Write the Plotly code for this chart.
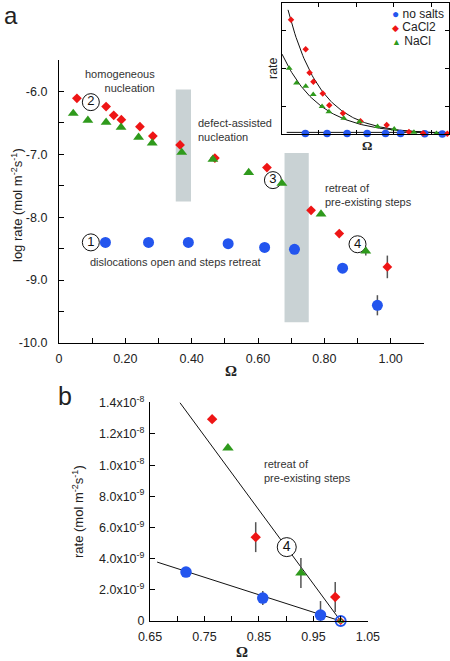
import math
import plotly.graph_objects as go

W, H = 450, 661

# ---------------- Panel a data (log rate vs Omega) ----------------
omega_none_a = [0.14, 0.27, 0.39, 0.51, 0.62, 0.71, 0.855, 0.96]
log_none_a = [-8.40, -8.40, -8.40, -8.42, -8.48, -8.51, -8.81, -9.40]
err_none_a = [0, 0, 0, 0, 0, 0, 0.06, 0.16]

omega_ca_a = [0.054, 0.142, 0.165, 0.188, 0.244, 0.283, 0.365, 0.47, 0.627, 0.76, 0.845, 0.99]
log_ca_a = [-6.11, -6.24, -6.38, -6.45, -6.56, -6.71, -6.85, -7.06, -7.21, -7.89, -8.26, -8.79]
err_ca_a = [0, 0, 0.05, 0, 0, 0, 0, 0, 0, 0, 0, 0.18]

omega_na_a = [0.043, 0.087, 0.142, 0.187, 0.24, 0.281, 0.37, 0.464, 0.572, 0.672, 0.79, 0.925]
log_na_a = [-6.35, -6.46, -6.49, -6.57, -6.73, -6.82, -6.97, -7.08, -7.29, -7.46, -7.95, -8.54]
err_na_a = [0, 0, 0, 0, 0, 0, 0, 0, 0, 0, 0, 0.07]

x_ticks_a = [0, 0.2, 0.4, 0.6, 0.8, 1.0]
x_ticklabels_a = ["0", "0.20", "0.40", "0.60", "0.80", "1.00"]
y_ticks_a = [-10, -9, -8, -7, -6]
y_ticklabels_a = ["-10.0", "-9.0", "-8.0", "-7.0", "-6.0"]

# regime bands (Omega from/to, log rate from/to)
band1 = dict(x0=0.352, x1=0.398, y0=-7.75, y1=-5.97)
band2 = dict(x0=0.680, x1=0.753, y0=-9.67, y1=-6.98)

# inset fits: rate = A*exp(-k*Omega)
fit_ca_A, fit_ca_k = 1.017e-6, 5.2
fit_na_A, fit_na_k = 5.43e-7, 4.5
fit_none_level = 1.1e-8

# ---------------- Panel b data (rate vs Omega) ----------------
omega_none_b = [0.716, 0.857, 0.963]
rate_none_b = [3.14e-9, 1.47e-9, 0.38e-9]
err_none_b = [0, 0.45e-9, 0.9e-9]

omega_ca_b = [0.764, 0.844, 0.99]
rate_ca_b = [12.95e-9, 5.38e-9, 1.54e-9]
err_ca_b = [0, 0.96e-9, 0.96e-9]

omega_na_b = [0.793, 0.927]
rate_na_b = [11.1e-9, 3.08e-9]
err_na_b = [0, 0.96e-9]

omega_eq_b = [1.0]
rate_eq_b = [0.0]

fit_none_b_x = [0.663, 1.0]
fit_none_b_y = [3.78e-9, 0.0]
fit_salt_b_x = [0.705, 1.0]
fit_salt_b_y = [1.4e-8, 0.0]

x_ticks_b = [0.65, 0.75, 0.85, 0.95, 1.05]
x_ticklabels_b = ["0.65", "0.75", "0.85", "0.95", "1.05"]
y_ticks_b = [0, 2e-9, 4e-9, 6e-9, 8e-9, 1e-8, 1.2e-8, 1.4e-8]
y_ticklabels_b = ["0", "2.0x10<sup>-9</sup>", "4.0x10<sup>-9</sup>", "6.0x10<sup>-9</sup>",
                  "8.0x10<sup>-9</sup>", "1.0x10<sup>-8</sup>", "1.2x10<sup>-8</sup>",
                  "1.4x10<sup>-8</sup>"]

# ---------------- styling ----------------
BLUE = "#2355ee"
RED = "#ee1515"
GREEN = "#2f9a1c"
BAND = "#c9d2d4"
FONT = "Liberation Sans"
TXT = "#222222"


def px(x):
    return x / W


def py(y):
    return 1 - y / H


fig = go.Figure()


def err(arr, show=True):
    return dict(type="data", array=arr, visible=show, color="#555555", thickness=1.5, width=0)


# ---- inset fit curves ----
n = 120
xs_ca = [0.036 + i * (1.0 - 0.036) / n for i in range(n + 1)]
xs_na = [0.0 + i * 1.0 / n for i in range(n + 1)]
fig.add_trace(go.Scatter(x=xs_ca, y=[fit_ca_A * math.exp(-fit_ca_k * v) for v in xs_ca],
                         mode="lines", line=dict(color="#111", width=1), xaxis="x2", yaxis="y2",
                         showlegend=False, hoverinfo="skip"))
fig.add_trace(go.Scatter(x=xs_na, y=[fit_na_A * math.exp(-fit_na_k * v) for v in xs_na],
                         mode="lines", line=dict(color="#111", width=1), xaxis="x2", yaxis="y2",
                         showlegend=False, hoverinfo="skip"))
fig.add_trace(go.Scatter(x=[0.028, 0.95], y=[fit_none_level, fit_none_level],
                         mode="lines", line=dict(color="#111", width=1), xaxis="x2", yaxis="y2",
                         showlegend=False, hoverinfo="skip"))

# ---- panel b fit lines ----
fig.add_trace(go.Scatter(x=fit_none_b_x, y=fit_none_b_y, mode="lines",
                         line=dict(color="#111", width=1), xaxis="x3", yaxis="y3",
                         showlegend=False, hoverinfo="skip"))
fig.add_trace(go.Scatter(x=fit_salt_b_x, y=fit_salt_b_y, mode="lines",
                         line=dict(color="#111", width=1), xaxis="x3", yaxis="y3",
                         showlegend=False, hoverinfo="skip"))

# ---- circled labels ----
lab_marker = dict(size=17, color="white", line=dict(color="#111", width=1))
fig.add_trace(go.Scatter(x=[0.096, 0.096, 0.645, 0.90], y=[-8.40, -6.17, -7.41, -8.43],
                         mode="markers+text", text=["1", "2", "3", "4"],
                         textposition="middle center", textfont=dict(family=FONT, size=13, color="#111"),
                         marker=lab_marker, xaxis="x", yaxis="y", showlegend=False,
                         cliponaxis=False, hoverinfo="skip"))
fig.add_trace(go.Scatter(x=[0.901], y=[4.74e-9],
                         mode="markers+text", text=["4"],
                         textposition="middle center", textfont=dict(family=FONT, size=14, color="#111"),
                         marker=dict(size=19, color="white", line=dict(color="#111", width=1)),
                         xaxis="x3", yaxis="y3", showlegend=False,
                         cliponaxis=False, hoverinfo="skip"))

# ---- panel a markers ----
fig.add_trace(go.Scatter(x=omega_none_a, y=log_none_a, mode="markers", error_y=err(err_none_a),
                         marker=dict(symbol="circle", size=11, color=BLUE),
                         xaxis="x", yaxis="y", showlegend=False, cliponaxis=False))
fig.add_trace(go.Scatter(x=omega_ca_a, y=log_ca_a, mode="markers", error_y=err(err_ca_a),
                         marker=dict(symbol="diamond", size=7.5, color=RED),
                         xaxis="x", yaxis="y", showlegend=False, cliponaxis=False))
fig.add_trace(go.Scatter(x=omega_na_a, y=log_na_a, mode="markers", error_y=err(err_na_a),
                         marker=dict(symbol="triangle-up", size=9.5, color=GREEN),
                         xaxis="x", yaxis="y", showlegend=False, cliponaxis=False))

# ---- inset markers ----
fig.add_trace(go.Scatter(x=omega_none_a, y=[10 ** v for v in log_none_a], mode="markers",
                         marker=dict(symbol="circle", size=7.5, color=BLUE),
                         xaxis="x2", yaxis="y2", showlegend=False, cliponaxis=False))
fig.add_trace(go.Scatter(x=omega_ca_a, y=[10 ** v for v in log_ca_a], mode="markers",
                         marker=dict(symbol="diamond", size=5, color=RED),
                         xaxis="x2", yaxis="y2", showlegend=False, cliponaxis=False))
fig.add_trace(go.Scatter(x=omega_na_a, y=[10 ** v for v in log_na_a], mode="markers",
                         marker=dict(symbol="triangle-up", size=6, color=GREEN),
                         xaxis="x2", yaxis="y2", showlegend=False, cliponaxis=False))

# ---- panel b markers ----
fig.add_trace(go.Scatter(x=omega_none_b, y=rate_none_b, mode="markers", error_y=err(err_none_b),
                         marker=dict(symbol="circle", size=11.5, color=BLUE),
                         xaxis="x3", yaxis="y3", showlegend=False, cliponaxis=False))
fig.add_trace(go.Scatter(x=omega_ca_b, y=rate_ca_b, mode="markers", error_y=err(err_ca_b),
                         marker=dict(symbol="diamond", size=8, color=RED),
                         xaxis="x3", yaxis="y3", showlegend=False, cliponaxis=False))
fig.add_trace(go.Scatter(x=omega_na_b, y=rate_na_b, mode="markers", error_y=err(err_na_b),
                         marker=dict(symbol="triangle-up", size=10, color=GREEN),
                         xaxis="x3", yaxis="y3", showlegend=False, cliponaxis=False))
fig.add_trace(go.Scatter(x=omega_eq_b, y=rate_eq_b, mode="markers",
                         marker=dict(symbol="circle-open", size=10, color=BLUE, line=dict(width=2)),
                         xaxis="x3", yaxis="y3", showlegend=False, cliponaxis=False))
fig.add_trace(go.Scatter(x=omega_eq_b, y=rate_eq_b, mode="markers",
                         marker=dict(symbol="diamond-open", size=5, color=RED, line=dict(width=1.2)),
                         xaxis="x3", yaxis="y3", showlegend=False, cliponaxis=False))
fig.add_trace(go.Scatter(x=omega_eq_b, y=rate_eq_b, mode="markers",
                         marker=dict(symbol="triangle-up-open", size=5, color=GREEN, line=dict(width=1.2)),
                         xaxis="x3", yaxis="y3", showlegend=False, cliponaxis=False))

# ---- bands ----
shapes = []
for b in (band1, band2):
    shapes.append(dict(type="rect", xref="x", yref="y", x0=b["x0"], x1=b["x1"], y0=b["y0"], y1=b["y1"],
                       fillcolor=BAND, line=dict(width=0), layer="below"))

tickfont = dict(family=FONT, size=12.5, color=TXT)
axis_common = dict(showline=True, linecolor="#000", linewidth=1.3, ticks="inside", ticklen=5,
                   tickcolor="#000", tickwidth=1.2, showgrid=False, zeroline=False, tickfont=tickfont,
                   automargin=False)

layout_axes = dict(
    xaxis=dict(domain=[px(59), px(424)], range=[0, 1.1005], anchor="y",
               tickmode="array", tickvals=x_ticks_a, ticktext=x_ticklabels_a,
               minor=dict(ticks="inside", tick0=0.1, dtick=0.2, ticklen=5, tickcolor="#000", tickwidth=1.2),
               ticklabelstandoff=4, **axis_common),
    yaxis=dict(domain=[py(343), py(60)], range=[-10, -5.5], anchor="x",
               tickmode="array", tickvals=y_ticks_a, ticktext=y_ticklabels_a,
               minor=dict(ticks="inside", tick0=-9.5, dtick=1, ticklen=5, tickcolor="#000", tickwidth=1.2),
               ticklabelstandoff=8, **axis_common),
    xaxis2=dict(domain=[px(282), px(449)], range=[0, 1.0], anchor="y2",
                showline=True, mirror="ticks", linecolor="#000", linewidth=1.2, ticks="inside",
                ticklen=4, tickcolor="#000", tick0=0.22, dtick=0.225, tickmode="linear",
                showticklabels=False, showgrid=False, zeroline=False),
    yaxis2=dict(domain=[py(134), py(3)], range=[0, 8.9e-7], anchor="x2",
                showline=True, mirror="ticks", linecolor="#000", linewidth=1.2, ticks="inside",
                ticklen=4, tickcolor="#000", tick0=1.9e-7, dtick=2.55e-7, tickmode="linear",
                showticklabels=False, showgrid=False, zeroline=False),
    xaxis3=dict(domain=[px(150), px(368)], range=[0.6499, 1.0502], anchor="y3",
                tickmode="array", tickvals=x_ticks_b, ticktext=x_ticklabels_b,
                minor=dict(ticks="inside", tick0=0.70, dtick=0.1, ticklen=5, tickcolor="#000", tickwidth=1.2),
                ticklabelstandoff=4, **axis_common),
    yaxis3=dict(domain=[py(621), py(402)], range=[0, 1.405e-8], anchor="x3",
                tickmode="array", tickvals=y_ticks_b, ticktext=y_ticklabels_b,
                ticklabelstandoff=2, **dict(axis_common, tickfont=dict(family=FONT, size=12.5, color=TXT))),
)


def ann(text, x, y, size=12, xanchor="center", yanchor="middle", align="center", angle=0,
        family=FONT, color=TXT):
    return dict(text=text, x=px(x), y=py(y), xref="paper", yref="paper", showarrow=False,
                xanchor=xanchor, yanchor=yanchor, align=align, textangle=angle,
                font=dict(family=family, size=size, color=color))


def leg(sym, col, label, y, ssize):
    return ann("<span style='color:%s;font-size:%dpx'>%s</span> %s" % (col, ssize, sym, label), 390, y,
               size=12, xanchor="left")


annotations = [
    ann("a", 2, 0, size=24, xanchor="left", yanchor="top"),
    ann("b", 56, 396, size=25, xanchor="left"),
    ann("log rate (mol m<sup>-2</sup>s<sup>-1</sup>)", 17, 205, size=13, angle=-90),
    ann("<b>Ω</b>", 231, 371, size=15, family="Liberation Serif"),
    ann("homogeneous<br>nucleation", 157, 81, size=11, xanchor="right", align="right", color="#333"),
    ann("defect-assisted<br>nucleation", 196, 130, size=11, xanchor="left", align="left", color="#333"),
    ann("retreat of<br>pre-existing steps", 323, 195, size=11, xanchor="left", align="left", color="#333"),
    ann("dislocations open and steps retreat", 88, 262, size=11, xanchor="left", color="#333"),
    # inset
    ann("rate", 273, 68, size=12.5, angle=-90),
    ann("<b>Ω</b>", 367, 146, size=13, family="Liberation Serif"),
    leg("●", BLUE, "no salts", 14, 12),
    leg("◆", RED, "CaCl2", 27.5, 9),
    leg("▲", GREEN, "NaCl", 41, 9),
    # panel b
    ann("rate (mol m<sup>-2</sup>s<sup>-1</sup>)", 78, 512, size=13, angle=-90),
    ann("<b>Ω</b>", 242, 652, size=15, family="Liberation Serif"),
    ann("retreat of<br>pre-existing steps", 262, 471, size=11, xanchor="left", align="left", color="#333"),
]

fig.update_layout(
    width=W, height=H, margin=dict(l=0, r=0, t=0, b=0, pad=0, autoexpand=False),
    paper_bgcolor="white", plot_bgcolor="rgba(0,0,0,0)",
    showlegend=False, shapes=shapes, annotations=annotations,
    font=dict(family=FONT, color=TXT),
    **layout_axes,
)

fig.write_html("out.html", config={"displayModeBar": False},
               post_script="document.body.style.margin='0';document.body.style.overflow='hidden';")
